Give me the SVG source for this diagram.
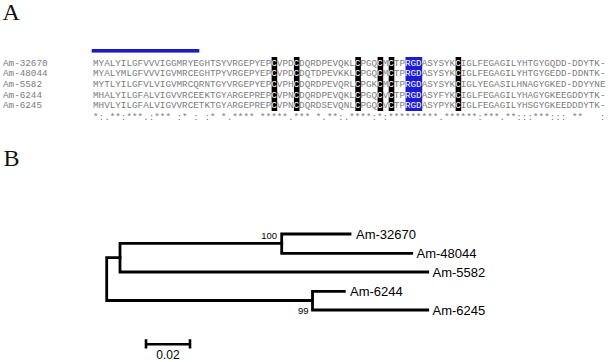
<svg xmlns="http://www.w3.org/2000/svg" width="610" height="362" viewBox="0 0 610 362">
<style>
.panel{font-family:"Liberation Serif","Times New Roman",serif;font-size:24px;fill:#111}
.seq{font-family:"Liberation Mono","Courier New",monospace;font-size:9.293px;fill:#7c7c7c;white-space:pre}
.w{fill:#ffffff}
.hb{fill:#000000}
.hblue{fill:#1c1cd2}
.br{fill:none;stroke:#000;stroke-width:2.8;stroke-linecap:square}
.lab{font-family:"Liberation Sans",Arial,sans-serif;font-size:13px;fill:#000}
.boot{font-family:"Liberation Sans",Arial,sans-serif;font-size:9.5px;fill:#000}
</style>
<rect width="610" height="362" fill="#fff"/>
<text class="panel" x="2.5" y="20">A</text>
<text class="panel" x="3.5" y="166">B</text>

<g id="signal-bar"><rect x="91.7" y="49" width="107.6" height="3.6" fill="#1a1ac8"/></g>

<g id="highlights">
<rect class="hb" x="271.6" y="57" width="5.6" height="54"/>
<rect class="hb" x="293.9" y="57" width="5.6" height="54"/>
<rect class="hb" x="355.3" y="57" width="5.6" height="54"/>
<rect class="hb" x="377.6" y="57" width="5.6" height="54"/>
<rect class="hb" x="388.7" y="57" width="5.6" height="54"/>
<rect class="hblue" x="405.5" y="57" width="16.7" height="54"/>
<rect class="hb" x="455.6" y="57" width="5.6" height="54"/>
</g>

<g id="row-Am-32670">
<text class="seq" x="3" y="65.5">Am-32670</text>
<text class="seq" x="93" y="65.5">MYALYILGFVVVIGGMRYEGHTSYVRGEPYEP<tspan class="w">C</tspan>VPD<tspan class="w">C</tspan>DQRDPEVQKL<tspan class="w">C</tspan>PGQ<tspan class="w">C</tspan>M<tspan class="w">C</tspan>TP<tspan class="w">RGD</tspan>ASYSYK<tspan class="w">C</tspan>IGLFEGAGILYHTGYGQDD-DDYTK-</text>
</g>
<g id="row-Am-48044">
<text class="seq" x="3" y="76.2">Am-48044</text>
<text class="seq" x="93" y="76.2">MYALYMLGFVVVIGVMRCEGHTPYVRGEPYEP<tspan class="w">C</tspan>VPD<tspan class="w">C</tspan>DQTDPEVKKL<tspan class="w">C</tspan>PGQ<tspan class="w">C</tspan>M<tspan class="w">C</tspan>TP<tspan class="w">RGD</tspan>ASYSYK<tspan class="w">C</tspan>IGLFEGAGILYHTGYGEDD-DDNTK-</text>
</g>
<g id="row-Am-5582">
<text class="seq" x="3" y="86.8">Am-5582</text>
<text class="seq" x="93" y="86.8">MYTLYILGFVLVIGVMRCQRNTGYVRGEPYEP<tspan class="w">C</tspan>VPH<tspan class="w">C</tspan>DQRDPEVQRL<tspan class="w">C</tspan>PGK<tspan class="w">C</tspan>M<tspan class="w">C</tspan>TP<tspan class="w">RGD</tspan>ASYSYK<tspan class="w">C</tspan>IGLYEGASILHNAGYGKED-DDYYNE</text>
</g>
<g id="row-Am-6244">
<text class="seq" x="3" y="97.5">Am-6244</text>
<text class="seq" x="93" y="97.5">MHALYILGFALVIGVVRCEEKTGYARGEPREP<tspan class="w">C</tspan>VPN<tspan class="w">C</tspan>DQRDPEVQKL<tspan class="w">C</tspan>PGQ<tspan class="w">C</tspan>V<tspan class="w">C</tspan>TP<tspan class="w">RGD</tspan>ASYFYK<tspan class="w">C</tspan>IGLFEGAGILYHAGYGKEEGDDYTK-</text>
</g>
<g id="row-Am-6245">
<text class="seq" x="3" y="108.2">Am-6245</text>
<text class="seq" x="93" y="108.2">MHVLYILGFALVIGVVRCETKTGYARGEPREP<tspan class="w">C</tspan>VPN<tspan class="w">C</tspan>DQRDSEVQNL<tspan class="w">C</tspan>PGQ<tspan class="w">C</tspan>V<tspan class="w">C</tspan>TP<tspan class="w">RGD</tspan>ASYPYK<tspan class="w">C</tspan>IGLFEGAGILYHSGYGKEEDDDYTK-</text>
</g>
<g id="consensus">
<text class="seq" x="93" y="119.5">*:.**:***.:*** :* : :* *.**** *****.*** *.**:.****:*:*********.******:***.**:::***::: **   :</text>
</g>

<g id="connectors">
<path class="br" d="M106.7,257.7 V300.5 M106.7,257.7 H120 M106.7,300.5 H312.5"/>
<path class="br" d="M120,243.3 V272 M120,243.3 H281.7 M120,272 H427.7"/>
<path class="br" d="M281.7,234 V253.3 M281.7,234 H350 M281.7,253.3 H411.7"/>
<path class="br" d="M312.5,291.3 V310 M312.5,291.3 H344.3 M312.5,310 H427.7"/>
</g>

<g id="leaf-Am-32670"><text class="lab" x="356" y="238.7">Am-32670</text></g>
<g id="leaf-Am-48044"><text class="lab" x="416.5" y="258">Am-48044</text></g>
<g id="leaf-Am-5582"><text class="lab" x="432.5" y="276.7">Am-5582</text></g>
<g id="leaf-Am-6244"><text class="lab" x="350" y="296">Am-6244</text></g>
<g id="leaf-Am-6245"><text class="lab" x="432.5" y="314.7">Am-6245</text></g>

<g id="bootstrap">
<text class="boot" x="277" y="239.2" text-anchor="end">100</text>
<text class="boot" x="308.5" y="313.5" text-anchor="end">99</text>
</g>

<g id="scale-bar">
<path d="M146,344.3 H190 M146,339.3 V348.5 M190,339.3 V348.5" fill="none" stroke="#000" stroke-width="2.6"/>
<text class="lab" x="168" y="359" font-size="12" style="font-size:12px" text-anchor="middle">0.02</text>
</g>
</svg>
